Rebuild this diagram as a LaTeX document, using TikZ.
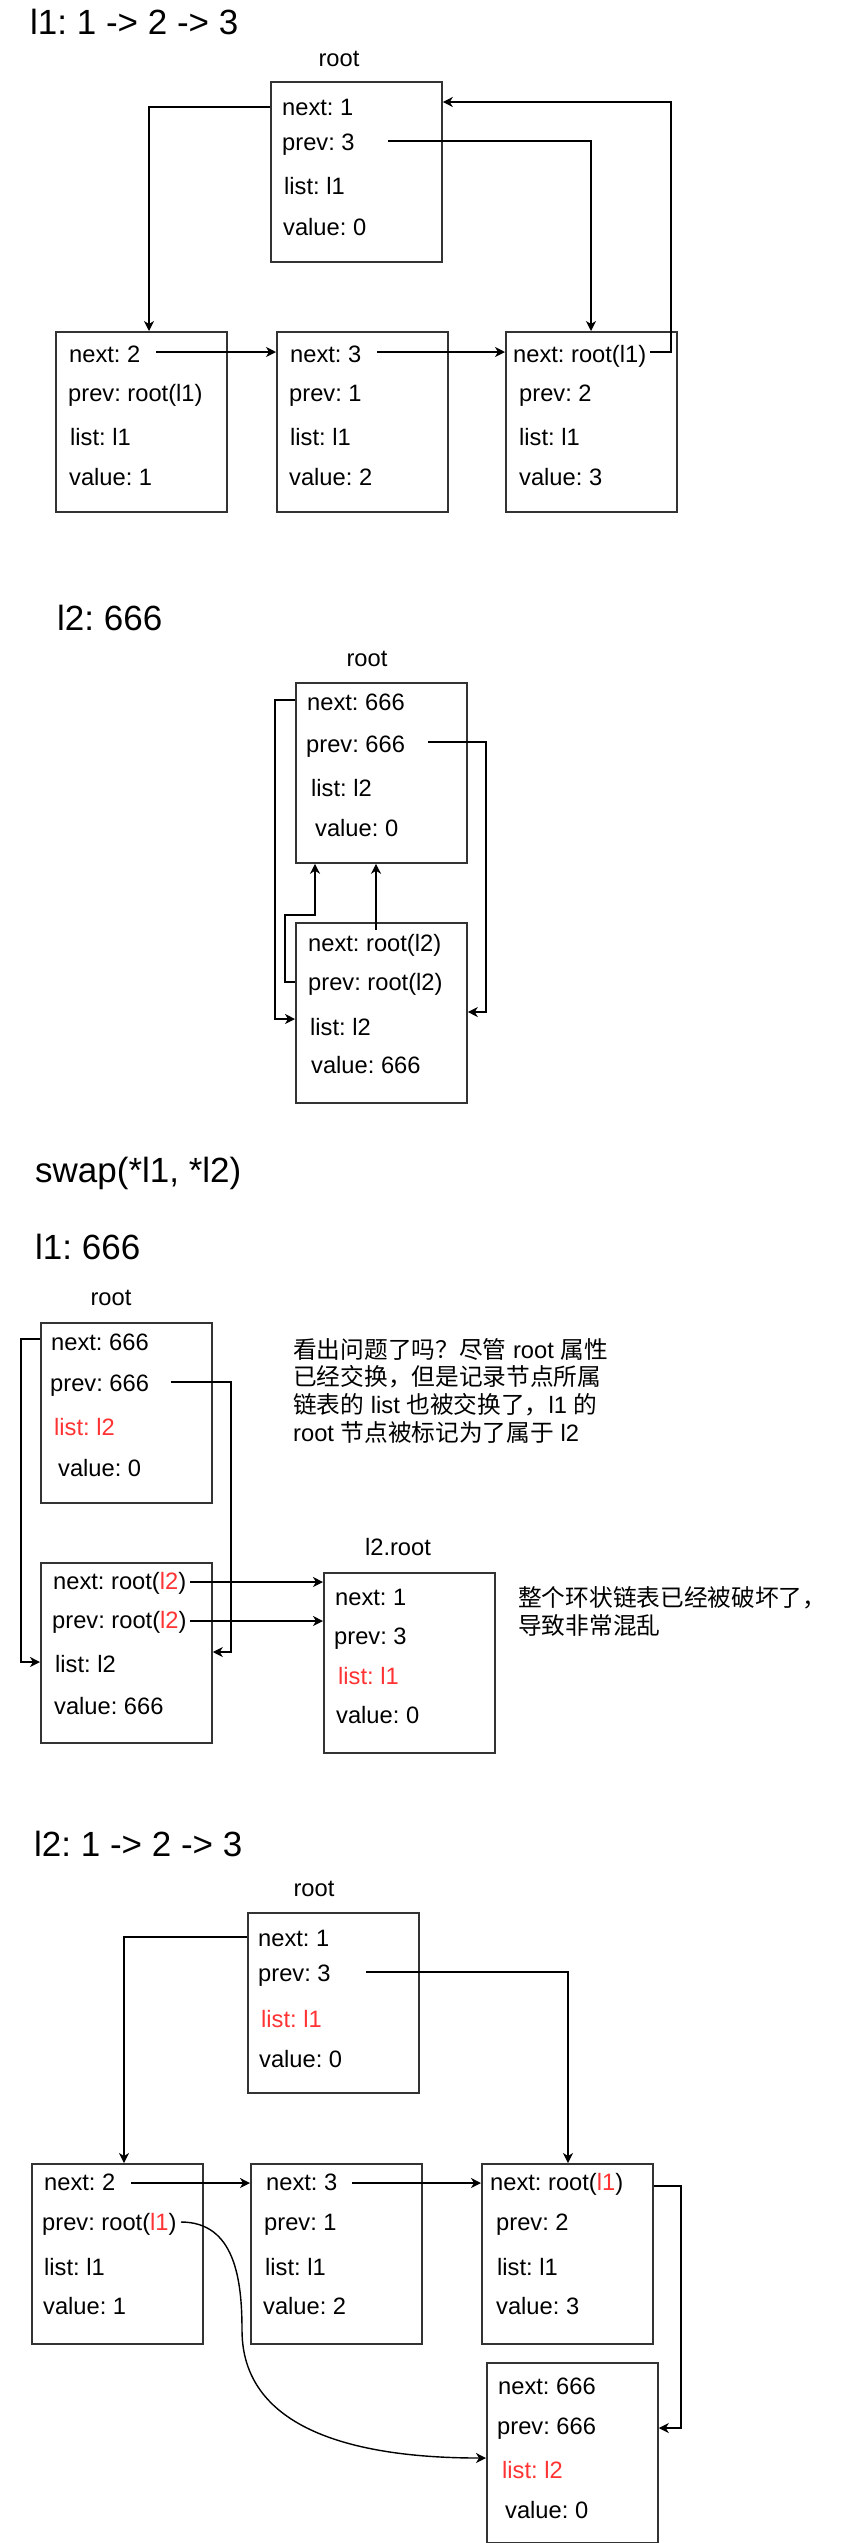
\documentclass[tikz,border=0pt]{standalone}
\usepackage{fontspec}
\setmainfont{Liberation Sans}
\newfontfamily\cjk{Noto Sans CJK SC}
\usetikzlibrary{arrows.meta}
\definecolor{redtxt}{HTML}{FF3333}
\definecolor{boxline}{HTML}{333333}
\newcommand\bodyf{\frenchspacing\fontsize{23.7}{28}\selectfont}
\newcommand\titlef{\frenchspacing\fontsize{35}{42}\selectfont}
\newcommand\redt[1]{\textcolor{redtxt}{#1}}
\begin{document}
\frenchspacing
\begin{tikzpicture}[x=1pt,y=-1pt,
  box/.style={draw=boxline, line width=1.8pt, anchor=north west, minimum width=171pt, minimum height=180pt, inner sep=0pt},
  txt/.style={anchor=base west, inner sep=0pt, font=\bodyf},
  rtxt/.style={txt, text=redtxt},
  ttl/.style={anchor=base west, inner sep=0pt, font=\titlef},
  lbl/.style={anchor=base, inner sep=0pt, font=\bodyf},
  arr/.style={line width=1.4pt, -{Stealth[length=10pt,width=10pt,inset=3pt]}}]
\useasboundingbox (0,0) rectangle (846,2543);
\fill[white] (0,0) rectangle (846,2543);

% ---------- Section 1 ----------
\node[ttl] (t1) at (30,34) {l1: 1 -> 2 -> 3};
\node[lbl] (s1rlab) at (339,66) {root};
\node[box] (s1r) at (270,81) {};
\node[txt] (s1rn) at (282,115) {next: 1};
\node[txt] (s1rp) at (282,150) {prev: 3};
\node[txt] (s1rl) at (284,194) {list: l1};
\node[txt] (s1rv) at (283,235) {value: 0};

\node[box] (s1a) at (55,331) {};
\node[txt] (s1an) at (69,362) {next: 2};
\node[txt] (s1ap) at (68,401) {prev: root(l1)};
\node[txt] (s1al) at (70,445) {list: l1};
\node[txt] (s1av) at (69,485) {value: 1};

\node[box] (s1b) at (276,331) {};
\node[txt] (s1bn) at (290,362) {next: 3};
\node[txt] (s1bp) at (289,401) {prev: 1};
\node[txt] (s1bl) at (290,445) {list: l1};
\node[txt] (s1bv) at (289,485) {value: 2};

\node[box] (s1c) at (505,331) {};
\node[txt] (s1cn) at (513,362) {next: root(l1)};
\node[txt] (s1cp) at (519,401) {prev: 2};
\node[txt] (s1cl) at (519,445) {list: l1};
\node[txt] (s1cv) at (519,485) {value: 3};

\draw[arr] (s1r.west |- 0,107) -| (s1a.north -| 149,0);
\coordinate (s1p) at (388,141);
\draw[arr] (s1p) -| (s1c.north -| 591,0);
\coordinate (s1q) at (156,352);
\draw[arr] (s1q) -- (s1b.west |- s1q);
\coordinate (s1s) at (377,352);
\draw[arr] (s1s) -- (s1c.west |- s1s);
\coordinate (s1t) at (650,352);
\draw[arr] (s1t) -- ++(21,0) |- (s1r.east |- 0,102);

% ---------- Section 2 ----------
\node[ttl] (t2) at (57,630) {l2: 666};
\node[lbl] (s2rlab) at (367,666) {root};
\node[box] (s2r) at (295,682) {};
\node[txt] (s2rn) at (307,710) {next: 666};
\node[txt] (s2rp) at (306,752) {prev: 666};
\node[txt] (s2rl) at (311,796) {list: l2};
\node[txt] (s2rv) at (315,836) {value: 0};

\node[box] (s2b) at (295,922) {};
\node[txt] (s2bn) at (308,951) {next: root(l2)};
\node[txt] (s2bp) at (308,990) {prev: root(l2)};
\node[txt] (s2bl) at (310,1035) {list: l2};
\node[txt] (s2bv) at (311,1073) {value: 666};

\draw[arr] (s2r.west |- 0,700) -- ++(-20,0) |- (s2b.west |- 0,1019);
\coordinate (s2p) at (428,742);
\draw[arr] (s2p) -- ++(58,0) |- (s2b.east |- 0,1012);
\coordinate (s2q) at (376,930);
\draw[arr] (s2q) -- (s2r.south -| s2q);
\draw[arr] (s2b.west |- 0,982) -- ++(-10,0) -- ++(0,-67) -| (s2r.south -| 315,0);

% ---------- Section 3 ----------
\node[ttl] (t3) at (35,1182) {swap(*l1, *l2)};
\node[ttl] (t4) at (35,1259) {l1: 666};
\node[lbl] (s3rlab) at (111,1305) {root};
\node[box] (s3r) at (40,1322) {};
\node[txt] (s3rn) at (51,1350) {next: 666};
\node[txt] (s3rp) at (50,1391) {prev: 666};
\node[rtxt] (s3rl) at (54,1435) {list: l2};
\node[txt] (s3rv) at (58,1476) {value: 0};

\node[box] (s3b) at (40,1562) {};
\node[txt] (s3bn) at (53,1589) {next: root(\redt{l2})};
\node[txt] (s3bp) at (52,1628) {prev: root(\redt{l2})};
\node[txt] (s3bl) at (55,1672) {list: l2};
\node[txt] (s3bv) at (54,1714) {value: 666};

\node[lbl] (s3xlab) at (398,1555) {l2.root};
\node[box] (s3x) at (323,1572) {};
\node[txt] (s3xn) at (335,1605) {next: 1};
\node[txt] (s3xp) at (334,1644) {prev: 3};
\node[rtxt] (s3xl) at (338,1684) {list: l1};
\node[txt] (s3xv) at (336,1723) {value: 0};

\node[txt] (c1a) at (293,1358) {{\cjk 看出问题了吗？尽管} root {\cjk 属性}};
\node[txt] (c1b) at (293,1385) {{\cjk 已经交换，但是记录节点所属}};
\node[txt] (c1c) at (293,1413) {{\cjk 链表的} list {\cjk 也被交换了，}l1 {\cjk 的}};
\node[txt] (c1d) at (293,1441) {root {\cjk 节点被标记为了属于} l2};
\node[txt] (c2a) at (518,1606) {{\cjk 整个环状链表已经被破坏了，}};
\node[txt] (c2b) at (518,1634) {{\cjk 导致非常混乱}};

\draw[arr] (s3r.west |- 0,1339) -- ++(-19,0) |- (s3b.west |- 0,1662);
\coordinate (s3p) at (171,1382);
\draw[arr] (s3p) -- ++(60,0) |- (s3b.east |- 0,1652);
\coordinate (s3q) at (190,1582);
\draw[arr] (s3q) -- (s3x.west |- s3q);
\coordinate (s3s) at (190,1621);
\draw[arr] (s3s) -- (s3x.west |- s3s);

% ---------- Section 4 ----------
\node[ttl] (t5) at (34,1856) {l2: 1 -> 2 -> 3};
\node[lbl] (s4rlab) at (314,1896) {root};
\node[box] (s4r) at (247,1912) {};
\node[txt] (s4rn) at (258,1946) {next: 1};
\node[txt] (s4rp) at (258,1981) {prev: 3};
\node[rtxt] (s4rl) at (261,2027) {list: l1};
\node[txt] (s4rv) at (259,2067) {value: 0};

\node[box] (s4a) at (31,2163) {};
\node[txt] (s4an) at (44,2190) {next: 2};
\node[txt] (s4ap) at (42,2230) {prev: root(\redt{l1})};
\node[txt] (s4al) at (44,2275) {list: l1};
\node[txt] (s4av) at (43,2314) {value: 1};

\node[box] (s4b) at (250,2163) {};
\node[txt] (s4bn) at (266,2190) {next: 3};
\node[txt] (s4bp) at (264,2230) {prev: 1};
\node[txt] (s4bl) at (265,2275) {list: l1};
\node[txt] (s4bv) at (263,2314) {value: 2};

\node[box] (s4c) at (481,2163) {};
\node[txt] (s4cn) at (490,2190) {next: root(\redt{l1})};
\node[txt] (s4cp) at (496,2230) {prev: 2};
\node[txt] (s4cl) at (497,2275) {list: l1};
\node[txt] (s4cv) at (496,2314) {value: 3};

\node[box] (s4d) at (486,2362) {};
\node[txt] (s4dn) at (498,2394) {next: 666};
\node[txt] (s4dp) at (497,2434) {prev: 666};
\node[rtxt] (s4dl) at (502,2478) {list: l2};
\node[txt] (s4dv) at (505,2518) {value: 0};

\draw[arr] (s4r.west |- 0,1937) -| (s4a.north -| 124,0);
\coordinate (s4p) at (366,1972);
\draw[arr] (s4p) -| (s4c.north -| 568,0);
\coordinate (s4q) at (131,2183);
\draw[arr] (s4q) -- (s4b.west |- s4q);
\coordinate (s4s) at (352,2183);
\draw[arr] (s4s) -- (s4c.west |- s4s);
\draw[arr] (s4c.east |- 0,2186) -- ++(27,0) |- (s4d.east |- 0,2428);
\coordinate (s4t) at (181,2222);
\draw[arr] (s4t) .. controls (235,2222) and (242,2280) .. (242,2330)
  .. controls (242,2440) and (380,2458) .. (s4d.west |- 0,2458);
\end{tikzpicture}
\end{document}
